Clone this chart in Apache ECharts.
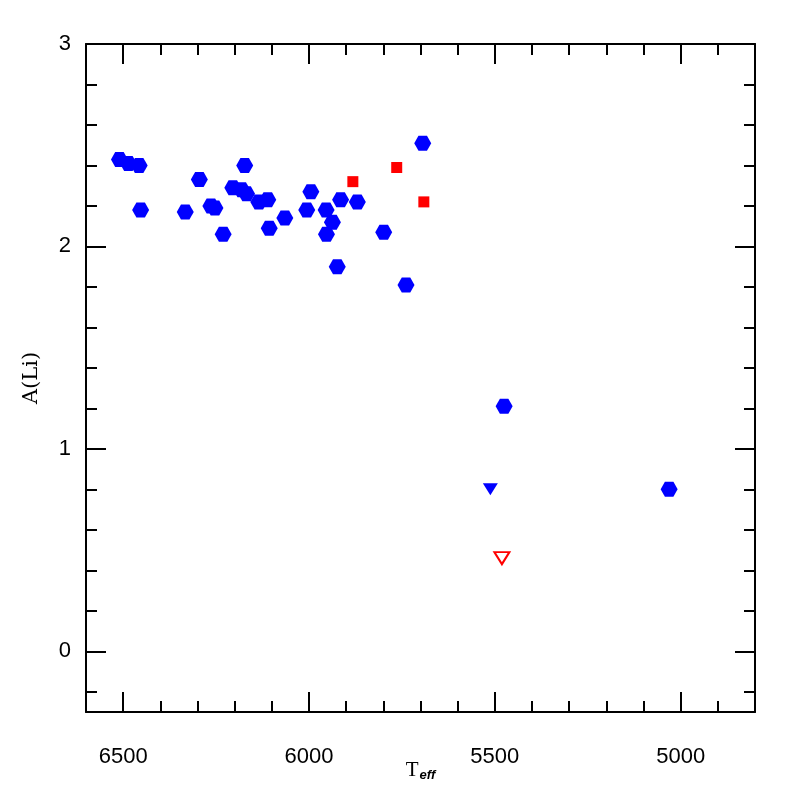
<!DOCTYPE html>
<html>
<head>
    <meta http-equiv="Content-Type" content="text/html; charset=utf-8"/>
    <script src="https://cdn.jsdelivr.net/npm/echarts@6/dist/echarts.min.js"></script>
</head>
<body style="margin:0;background:#fff">
<div id="main" style="width:797px;height:797px"></div>
<script type="text/javascript">
    // filled blue hexagons: [Teff, A(Li)]
    var blueHex = [
        [6510, 2.43], [6486, 2.41], [6457, 2.40], [6453, 2.18], [6295, 2.33],
        [6173, 2.40], [6333, 2.17], [6264, 2.20], [6253, 2.19], [6231, 2.06],
        [6205, 2.29], [6181, 2.28], [6168, 2.26], [6135, 2.22], [6111, 2.23],
        [6107, 2.09], [6065, 2.14], [5995, 2.27], [6006, 2.18], [5954, 2.18],
        [5937, 2.12], [5953, 2.06], [5915, 2.23], [5870, 2.22], [5924, 1.90],
        [5799, 2.07], [5694, 2.51], [5739, 1.81], [5475, 1.21], [5031, 0.80]
    ];
    // red squares
    var redSquare = [[5882, 2.32], [5764, 2.39], [5691, 2.22]];
    // upper limits
    var blueLimit = [[5512, 0.80]];
    var redLimit = [[5481, 0.46]];

    // axis ticks
    var xMajor = [5000, 5500, 6000, 6500];
    var yMajor = [0, 1, 2, 3];
    var xMinor = [];
    for (var t = 4900; t < 6600; t += 100) {
        if (t % 500 !== 0) xMinor.push(t);
    }
    var yMinor = [];
    for (var k = -1; k < 15; k++) {
        if (k % 5 !== 0) yMinor.push(Math.round(k * 0.2 * 10) / 10);
    }

    var hexPath = 'path://M0,0.5L0.25,0L0.75,0L1,0.5L0.75,1L0.25,1Z';
    var labelFont = {fontFamily: 'Liberation Sans', fontSize: 22, color: '#000'};
    var plain = function (v) { return String(v); };

    function xAx(pos, ticks, len, withLabel) {
        return {
            type: 'value', position: pos, min: 4800, max: 6600, inverse: true,
            axisLine: {show: len > 15, onZero: false, lineStyle: {color: '#000', width: 2}},
            axisTick: {show: true, inside: true, length: len, customValues: ticks,
                lineStyle: {color: '#000', width: 2}},
            axisLabel: withLabel ? Object.assign({show: true, margin: 34, customValues: xMajor, formatter: plain}, labelFont) : {show: false},
            splitLine: {show: false}
        };
    }
    function yAx(pos, ticks, len, withLabel) {
        return {
            type: 'value', position: pos, min: -0.3, max: 3,
            axisLine: {show: len > 15, onZero: false, lineStyle: {color: '#000', width: 2}},
            axisTick: {show: true, inside: true, length: len, customValues: ticks,
                lineStyle: {color: '#000', width: 2}},
            axisLabel: withLabel ? Object.assign({show: true, margin: 15, customValues: yMajor, formatter: plain}, labelFont) : {show: false},
            splitLine: {show: false}
        };
    }

    var bottomMain = xAx('bottom', xMajor, 20, true);
    bottomMain.name = '{t|T}{s|eff}';
    bottomMain.nameLocation = 'middle';
    bottomMain.nameGap = 47;
    bottomMain.nameMoveOverlap = false;
    bottomMain.nameTextStyle = {
        rich: {
            t: {fontFamily: 'Liberation Serif', fontSize: 21, color: '#000'},
            s: {fontFamily: 'Liberation Sans', fontSize: 13, fontWeight: 'bold', fontStyle: 'italic',
                color: '#000', padding: [10, 0, 0, 1]}
        }
    };

    var leftMain = yAx('left', yMajor, 20, true);
    leftMain.name = 'A(Li)';
    leftMain.nameLocation = 'middle';
    leftMain.nameGap = 44;
    leftMain.nameMoveOverlap = false;
    leftMain.nameTextStyle = {fontFamily: 'DejaVu Serif', fontSize: 21, color: '#000'};

    var chart = echarts.init(document.getElementById('main'));
    chart.setOption({
        backgroundColor: '#fff',
        animation: false,
        grid: {left: 86, right: 42, top: 44, bottom: 85, containLabel: false, outerBoundsMode: 'none'},
        xAxis: [
            bottomMain,
            xAx('bottom', xMinor, 11, false),
            xAx('top', xMajor, 20, false),
            xAx('top', xMinor, 11, false)
        ],
        yAxis: [
            leftMain,
            yAx('left', yMinor, 11, false),
            yAx('right', yMajor, 20, false),
            yAx('right', yMinor, 11, false)
        ],
        series: [
            {
                type: 'scatter', data: blueHex, symbol: hexPath, symbolSize: [17, 15],
                itemStyle: {color: '#0000ff', opacity: 1}
            },
            {
                type: 'scatter', data: redSquare, symbol: 'rect', symbolSize: 11,
                itemStyle: {color: '#ff0000', opacity: 1}
            },
            {
                type: 'scatter', data: blueLimit, symbol: 'triangle', symbolRotate: 180, symbolSize: [15, 12],
                itemStyle: {color: '#0000ff', opacity: 1}
            },
            {
                type: 'scatter', data: redLimit, symbol: 'triangle', symbolRotate: 180, symbolSize: [15, 12],
                itemStyle: {color: '#ffffff', borderColor: '#ff0000', borderWidth: 2, opacity: 1}
            }
        ]
    });
</script>
</body>
</html>
